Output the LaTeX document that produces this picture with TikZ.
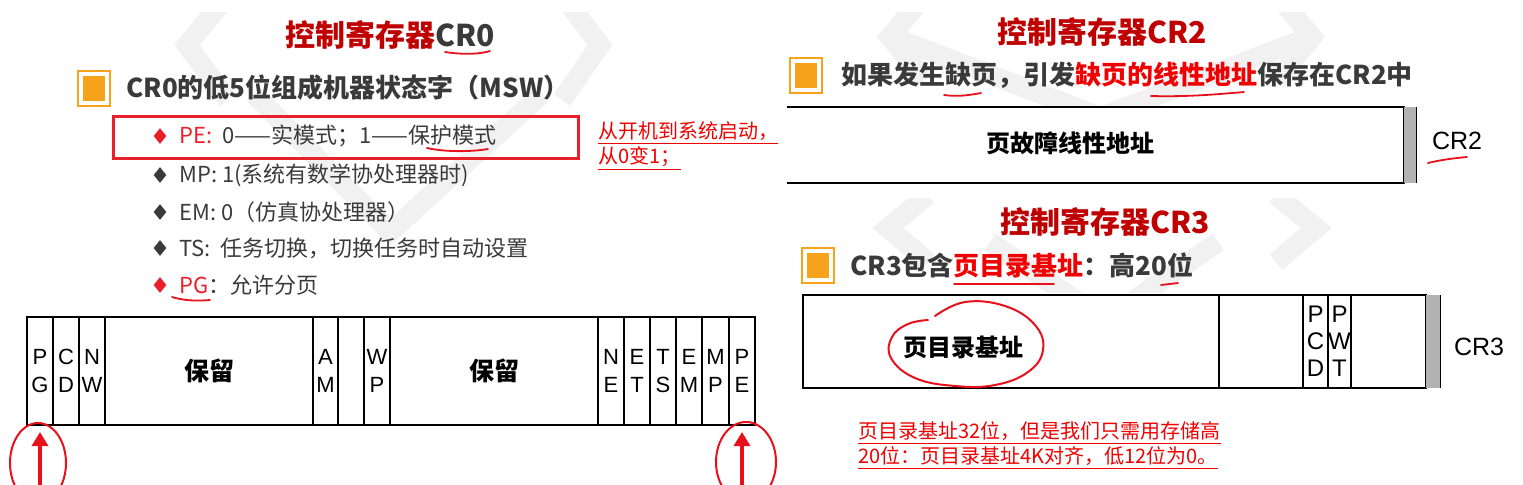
\documentclass[tikz,border=0pt]{standalone}
\usepackage{fontspec}
\setmainfont{Noto Sans CJK SC}
\newfontfamily\arl{Liberation Sans}
\usetikzlibrary{arrows.meta,positioning,shapes.geometric,calc}
\definecolor{ttlred}{HTML}{C00000}
\definecolor{txtgray}{HTML}{3A3A3A}
\definecolor{ora}{HTML}{F7A21B}
\definecolor{boxred}{HTML}{E8202A}
\definecolor{penred}{HTML}{E8101A}
\definecolor{notered}{HTML}{F00000}
\definecolor{wmgray}{HTML}{F1F1F1}

\begin{document}
\begin{tikzpicture}[x=0.5pt, y=-0.5pt,
    ttl/.style={font=\bfseries\fontsize{15}{18}\selectfont, text=ttlred, inner sep=0pt},
    head/.style={font=\bfseries\fontsize{13}{15}\selectfont, text=txtgray, anchor=west, inner sep=0pt},
    obox/.style={draw=ora, line width=1pt, fill=white, minimum width=16pt, minimum height=17.5pt, inner sep=0pt,
                 path picture={\fill[ora] ($(path picture bounding box.south west)+(2.5pt,2.5pt)$) rectangle ($(path picture bounding box.north east)+(-2.5pt,-2.5pt)$);}},
    dia/.style={diamond, fill=#1, inner sep=0pt, minimum width=6.5pt, minimum height=8pt},
    itm/.style={font=\fontsize{11}{13}\selectfont, text=txtgray, anchor=west, inner sep=0pt},
    note/.style={font=\fontsize{10}{12.5}\selectfont, text=notered, anchor=west, inner sep=0pt, align=left},
    fld/.style={draw, line width=1pt, minimum height=54pt, inner sep=0pt, align=center,
                font=\arl\fontsize{11}{14}\selectfont},
    big/.style={font=\bfseries\fontsize{12}{14}\selectfont, inner sep=0pt},
    reg/.style={font=\arl\fontsize{12.5}{14}\selectfont, inner sep=0pt},
    pen/.style={draw=penred, line width=0.9pt, line cap=round},
    uparr/.style={-{Triangle[length=7pt,width=8pt]}, draw=penred, line width=1.6pt, shorten >=3pt},
    wm/.style={draw=wmgray, line width=10pt}]
  \useasboundingbox (0,0) rectangle (1523,484);
  \begin{scope}
    \clip (0,12) rectangle (780,310);
    \draw[wm] (228,-5) -- (187,45) -- (228,100);
    \draw[wm] (562,-5) -- (600,45) -- (562,100);
    \draw[wm] (255,95) -- (390,232) -- (541,95);
  \end{scope}
  \begin{scope}
    \clip (780,12) rectangle (1523,105);
    \draw[wm] (925,-5) -- (890,37) -- (925,80);
    \draw[wm] (1277,-5) -- (1312,37) -- (1277,80);
    \draw[wm] (900,40) -- (1101,117) -- (1302,40);
  \end{scope}
  \begin{scope}
    \clip (780,198) rectangle (1523,292);
    \draw[wm] (928,195) -- (888,228) -- (928,262);
    \draw[wm] (1276,195) -- (1316,228) -- (1276,262);
    \draw[wm] (990,242) -- (1105,320) -- (1218,242);
  \end{scope}

  \node[ttl] (t0) at (390,35) {控制寄存器\textcolor{txtgray}{CR0}};
  \draw[pen] (445,52) .. controls (465,55) and (480,54) .. (490,51);
  \node[obox] (b0) at (94,88) {};
  \node[head, right=7.5pt of b0] (h0) {CR0的低5位组成机器状态字（MSW）};

  \node[draw=boxred, line width=1.5pt, minimum width=232.5pt, minimum height=21pt, inner sep=0pt] (pebox) at (345.5,137) {};
  \node[dia=boxred] (d1) at (160,136) {};
  \node[itm, right=6pt of d1] (it1) {\textcolor{boxred}{PE:}\ \ 0——实模式；1——保护模式};
  \node[dia=txtgray] (d2) at (160,175) {};
  \node[itm, right=6pt of d2] (it2) {MP: 1(系统有数学协处理器时)};
  \node[dia=txtgray] (d3) at (160,212) {};
  \node[itm, right=6pt of d3] (it3) {EM: 0（仿真协处理器）};
  \node[dia=txtgray] (d4) at (160,248) {};
  \node[itm, right=6pt of d4] (it4) {TS:\ \ 任务切换，切换任务时自动设置};
  \node[dia=boxred] (d5) at (160,285) {};
  \node[itm, right=6pt of d5] (it5) {\textcolor{boxred}{PG}：允许分页};
  \draw[pen] (427,148) .. controls (445,152) and (470,152) .. (488,149);
  \draw[pen] (172,297) .. controls (185,301) and (198,301) .. (210,300);
  \node[note] (n0) at (598,146) {\underline{从开机到系统启动，}\\\underline{从0变1；}};

  \foreach \l/\r/\a/\b/\n in {27/53/P/G/pg, 53/79/C/D/cd, 79/105/N/W/nw, 313/338/A/M/am, 338/364/{}/{}/bit17,
      364/390/W/P/wp, 598/624/N/E/ne, 624/650/E/T/et, 650/676/T/S/ts, 676/702/E/M/em, 702/729/M/P/mp, 729/755/P/E/pe}
    \node[fld, minimum width={(\r-\l)*0.5pt}] (\n) at ({(\l+\r)/2},371) {\a\\\b};
  \node[fld, minimum width=104pt, font=\bfseries\fontsize{12.5}{14}\selectfont] (rs1) at (209,371) {保留};
  \node[fld, minimum width=104pt, font=\bfseries\fontsize{12.5}{14}\selectfont] (rs2) at (494,371) {保留};

  \begin{scope}
    \clip (0,0) rectangle (1523,484);
    \coordinate (pgfoot) at (40,492);
    \coordinate (pefoot) at (742,492);
    \draw[uparr] (pgfoot) -- (pg.south);
    \draw[uparr] (pefoot) -- (pe.south);
    \draw[pen, line width=1pt] (38,463) ellipse [x radius=14pt, y radius=20pt];
    \draw[pen, line width=1pt] (746,462) ellipse [x radius=15pt, y radius=20pt];
  \end{scope}

  \node[ttl] (t2) at (1102,32) {控制寄存器CR2};
  \node[obox] (b2) at (806,75) {};
  \node[head, right=9pt of b2] (h2) {如果发生缺页，引发\textcolor{notered}{缺页的线性地址}保存在CR2中};
  \draw[pen] (944,95) .. controls (958,97) and (970,95) .. (981,93);
  \draw[pen] (1151,96) .. controls (1190,97) and (1220,94) .. (1244,92);
  \draw[line width=1pt] (787,107) -- (1404,107) -- (1404,183) -- (787,183);
  \fill[black!30] (1404,107) rectangle (1416,183);
  \draw (1416,107) -- (1416,183);
  \node[big] (flt) at (1070,143) {页故障线性地址};
  \node[reg] (cr2) at (1457,141) {CR2};
  \draw[pen] (1428,163) .. controls (1440,160) and (1455,158) .. (1467,157);

  \node[ttl] (t3) at (1105,222) {控制寄存器CR3};
  \node[obox] (b3) at (818,265) {};
  \node[head, right=7.5pt of b3] (h3) {CR3包含\textcolor{notered}{页目录基址}：高20位};
  \draw[pen] (954,284) -- (1054,284);
  \draw[pen] (1161,285) -- (1178,283);
  \foreach \l/\r/\a/\b/\c/\n in {803/1219/{}/{}/{}/pdbf, 1219/1303/{}/{}/{}/avl, 1303/1328/P/C/D/pcd,
      1328/1351/P/W/T/pwt, 1351/1426/{}/{}/{}/lowb}
    \node[fld, minimum height=46.5pt, minimum width={(\r-\l)*0.5pt}, font=\arl\fontsize{12}{13.5}\selectfont]
      (\n) at ({(\l+\r)/2},341.5) {\a\\\b\\\c};
  \fill[black!30] (1426,295) rectangle (1440,388);
  \draw (1440,295) -- (1440,388);
  \node[big] (pdb) at (963,347) {页目录基址};
  \draw[pen, line width=1pt] plot[smooth, tension=0.7] coordinates {(935,316) (965,302) (1005,306) (1035,325)
    (1043,350) (1028,372) (995,385) (955,386) (915,378) (891,358) (892,337) (908,324) (928,320)};
  \node[reg] (cr3) at (1479,347) {CR3};
  \node[note] (n3) at (858,446) {\underline{页目录基址32位，但是我们只需用存储高}\\\underline{20位：页目录基址4K对齐，低12位为0。}};
\end{tikzpicture}
\end{document}
